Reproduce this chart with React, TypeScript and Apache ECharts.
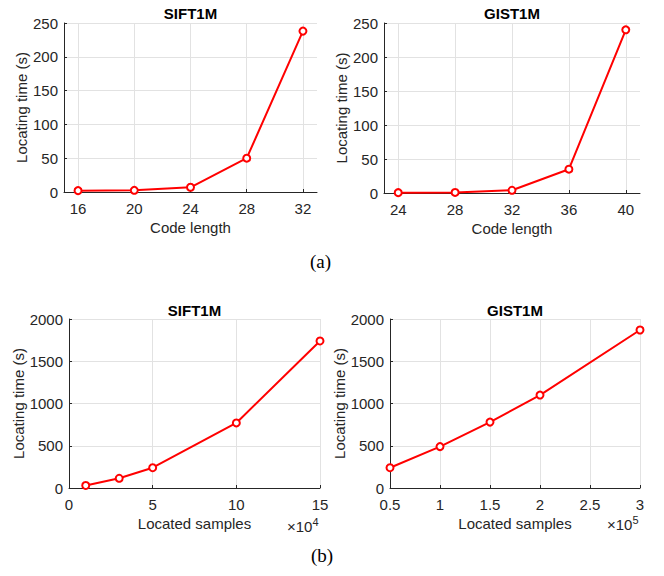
import React, { useEffect, useRef } from "react";
import * as echarts from "echarts";

// (a) Code length vs locating time
const siftCodeLength = [16, 20, 24, 28, 32];
const siftCodeTime = [2, 2.5, 7, 50, 238];
const gistCodeLength = [24, 28, 32, 36, 40];
const gistCodeTime = [0.5, 0.8, 4, 35, 240];

// (b) Located samples vs locating time
const siftSamples = [10000, 30000, 50000, 100000, 150000];
const siftSampleTime = [30, 115, 240, 770, 1740];
const gistSamples = [50000, 100000, 150000, 200000, 300000];
const gistSampleTime = [240, 490, 780, 1100, 1870];

const siftCodeTicks = [16, 20, 24, 28, 32];
const gistCodeTicks = [24, 28, 32, 36, 40];

const titles = ["SIFT1M", "GIST1M", "SIFT1M", "GIST1M"];

const FONT = "Liberation Sans, Arial, Helvetica, sans-serif";
const TXT = "#262626";
const GRIDC = "#e2e2e2";

export default function App() {
  const ref = useRef<HTMLDivElement>(null);
  useEffect(() => {
    if (!ref.current) return;
    const chart = echarts.init(ref.current, null, { renderer: "svg" });

    const grids = [
      { left: 64, top: 23, width: 253, height: 169 },
      { left: 384, top: 23, width: 256, height: 170 },
      { left: 69, top: 319, width: 251, height: 169 },
      { left: 390, top: 319, width: 250, height: 169 },
    ];

    const axisCommon = {
      axisLine: { show: true, lineStyle: { color: TXT, width: 1 } },
      axisTick: { show: true, inside: true, length: 3, lineStyle: { color: TXT } },
      splitLine: { show: true, lineStyle: { color: GRIDC, width: 1 } },
      axisLabel: { color: TXT, fontSize: 15, fontFamily: FONT },
      nameTextStyle: { color: TXT, fontSize: 15, fontFamily: FONT },
      nameLocation: "middle" as const,
    };

    const xAxes: any[] = [
      {
        ...axisCommon,
        gridIndex: 0,
        type: "value",
        min: 15,
        max: 33,
        name: "Code length",
        nameGap: 28,
        axisTick: { ...axisCommon.axisTick, customValues: siftCodeTicks },
        axisLabel: { ...axisCommon.axisLabel, margin: 9, customValues: siftCodeTicks },
      },
      {
        ...axisCommon,
        gridIndex: 1,
        type: "value",
        min: 23,
        max: 41,
        name: "Code length",
        nameGap: 28,
        axisTick: { ...axisCommon.axisTick, customValues: gistCodeTicks },
        axisLabel: { ...axisCommon.axisLabel, margin: 9, customValues: gistCodeTicks },
      },
      {
        ...axisCommon,
        gridIndex: 2,
        type: "value",
        min: 0,
        max: 150000,
        interval: 50000,
        name: "Located samples",
        nameGap: 28,
        axisLabel: { ...axisCommon.axisLabel, margin: 9, formatter: (v: number) => String(v / 1e4) },
      },
      {
        ...axisCommon,
        gridIndex: 3,
        type: "value",
        min: 50000,
        max: 300000,
        interval: 50000,
        name: "Located samples",
        nameGap: 28,
        axisLabel: { ...axisCommon.axisLabel, margin: 9, formatter: (v: number) => String(v / 1e5) },
      },
    ];

    const yAxes: any[] = [
      { max: 250, interval: 50, gap: 35 },
      { max: 250, interval: 50, gap: 35 },
      { max: 2000, interval: 500, gap: 40 },
      { max: 2000, interval: 500, gap: 43 },
    ].map((c, i) => ({
      ...axisCommon,
      gridIndex: i,
      type: "value",
      min: 0,
      max: c.max,
      interval: c.interval,
      name: "Locating time (s)",
      nameGap: c.gap,
      axisLabel: { ...axisCommon.axisLabel, margin: 6, formatter: (v: number) => String(v) },
    }));

    const seriesData = [
      [siftCodeLength, siftCodeTime],
      [gistCodeLength, gistCodeTime],
      [siftSamples, siftSampleTime],
      [gistSamples, gistSampleTime],
    ];

    const series = seriesData.map(([xs, ys], i) => ({
      type: "line",
      xAxisIndex: i,
      yAxisIndex: i,
      data: xs.map((x, j) => [x, ys[j]]),
      symbol: "emptyCircle",
      symbolSize: 7,
      lineStyle: { color: "#ff0000", width: 2 },
      itemStyle: { color: "#ff0000", borderColor: "#ff0000", borderWidth: 1.6 },
      clip: false,
    }));

    const titleY = [13, 13, 310, 310];
    const titleGraphics = titles.map((t, i) => ({
      type: "text",
      x: grids[i].left + grids[i].width / 2,
      y: titleY[i],
      style: {
        text: t,
        align: "center",
        verticalAlign: "middle",
        textAlign: "center",
        textVerticalAlign: "middle",
        fontSize: 15,
        fontWeight: "bold",
        fontFamily: FONT,
        fill: "#000",
      },
    }));

    const expText = (x: number, y: number, exp: string) => ({
      type: "text",
      left: x,
      top: y,
      style: {
        text: "{a|×10}{b|" + exp + "}",
        rich: {
          a: { fontSize: 15, fontFamily: FONT, fill: TXT, color: TXT, verticalAlign: "bottom", lineHeight: 18 },
          b: { fontSize: 11, fontFamily: FONT, fill: TXT, color: TXT, verticalAlign: "top", lineHeight: 18, padding: [0, 0, 6, 0] },
        },
      },
    });

    chart.setOption({
      animation: false,
      backgroundColor: "#ffffff",
      grid: grids.map((g) => ({ ...g, containLabel: false })),
      xAxis: xAxes,
      yAxis: yAxes,
      series,
      graphic: [
        ...titleGraphics,
        {
          type: "text",
          left: 310,
          top: 252,
          style: { text: "(a)", fontSize: 19, fontFamily: "Liberation Serif, Times New Roman, serif", fill: "#000" },
        },
        {
          type: "text",
          left: 311,
          top: 546,
          style: { text: "(b)", fontSize: 19, fontFamily: "Liberation Serif, Times New Roman, serif", fill: "#000" },
        },
        expText(287, 516, "4"),
        expText(607, 514, "5"),
      ],
    });

    return () => chart.dispose();
  }, []);

  return (
    <div
      ref={ref}
      style={{ position: "fixed", left: 0, top: 0, width: 664, height: 576, background: "#fff" }}
    />
  );
}
